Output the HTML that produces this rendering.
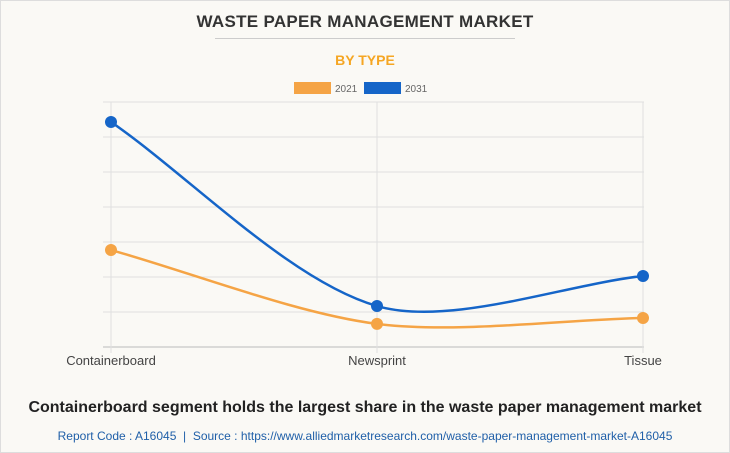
<!DOCTYPE html>
<html><head><meta charset="utf-8"><style>
body{margin:0;background:#fff;}
#wrap{position:relative;width:728px;height:451px;border:1px solid #ddd;background:#faf9f5;font-family:"Liberation Sans",sans-serif;overflow:hidden}
.t{position:absolute;left:0;width:728px;text-align:center}
</style></head><body>
<div id="wrap">
<div class="t" style="top:11px;font-size:17px;font-weight:bold;color:#333;letter-spacing:0.3px">WASTE PAPER MANAGEMENT MARKET</div>
<div style="position:absolute;left:214px;top:37px;width:300px;height:1px;background:#ccc"></div>
<div class="t" style="top:51px;font-size:14px;font-weight:bold;color:#f5a623">BY TYPE</div>
<svg id="chart" width="728" height="380" style="position:absolute;left:0;top:0"></svg>
<div class="t" style="top:398px;font-size:16px;font-weight:bold;color:#222">Containerboard segment holds the largest share in the waste paper management market</div>
<div class="t" style="top:428px;font-size:12px;color:#1f5fa8">Report Code : A16045 &nbsp;|&nbsp; Source : https://www.alliedmarketresearch.com/waste-paper-management-market-A16045</div>
</div>
<script>
const categories=["Containerboard","Newsprint","Tissue"];
const series2021=[2.77,0.66,0.83];
const series2031=[6.43,1.17,2.03];
const seriesNames=["2021","2031"];
const colors=["#f5a445","#1565c8"];
const NS="http://www.w3.org/2000/svg";
const svg=document.getElementById('chart');
const x0=110,x1=642,yTop=101,yBot=346,yMax=7;
const xs=i=>x0+(x1-x0)*i/(categories.length-1);
const ys=v=>yBot-(yBot-yTop)*v/yMax;
function mk(t,a){const e=document.createElementNS(NS,t);for(const k in a)e.setAttribute(k,a[k]);svg.appendChild(e);return e;}
for(let g=0;g<=yMax;g++){const y=ys(g);
const l=mk('line',{x1:102,x2:x1+1,y1:y,y2:y,stroke:g==0?'#bbb':'#e0e0e0','stroke-width':1});

}
categories.forEach((c,i)=>{
const l=mk('line',{x1:xs(i),x2:xs(i),y1:yTop,y2:yBot+6,stroke:'#e0e0e0'});


const t=mk('text',{x:xs(i),y:364,'text-anchor':'middle','font-size':13,fill:'#444','font-family':'Liberation Sans,sans-serif'});
t.textContent=c;

});
function path(vals){const p=vals.map((v,i)=>[xs(i),ys(v)]);const tn=0.3;let d=`M${p[0][0]},${p[0][1]}`;
const cps=p.map((c,i)=>{const pr=p[Math.max(i-1,0)],nx=p[Math.min(i+1,p.length-1)];
const d01=Math.hypot(c[0]-pr[0],c[1]-pr[1]),d12=Math.hypot(nx[0]-c[0],nx[1]-c[1]);
let fa=d01/(d01+d12)||0,fb=d12/(d01+d12)||0;fa*=tn;fb*=tn;
return{pv:[c[0]-fa*(nx[0]-pr[0]),c[1]-fa*(nx[1]-pr[1])],nx:[c[0]+fb*(nx[0]-pr[0]),c[1]+fb*(nx[1]-pr[1])]};});
for(let i=1;i<p.length;i++)d+=` C${cps[i-1].nx[0]},${cps[i-1].nx[1]} ${cps[i].pv[0]},${cps[i].pv[1]} ${p[i][0]},${p[i][1]}`;return d;}
[series2021,series2031].forEach((s,k)=>{
const pl=mk('path',{d:path(s),fill:'none',stroke:colors[k],'stroke-width':2.5});


s.forEach((v,i)=>{const c=mk('circle',{cx:xs(i),cy:ys(v),r:6,fill:colors[k]});

});});
seriesNames.forEach((n,k)=>{const bx=293+k*70;
const r=mk('rect',{x:bx,y:81,width:37,height:12,fill:colors[k]});


const t=mk('text',{x:bx+41,y:91,'font-size':10,fill:'#666','font-family':'Liberation Sans,sans-serif'});
t.textContent=n;

});
</script>
</body></html>
